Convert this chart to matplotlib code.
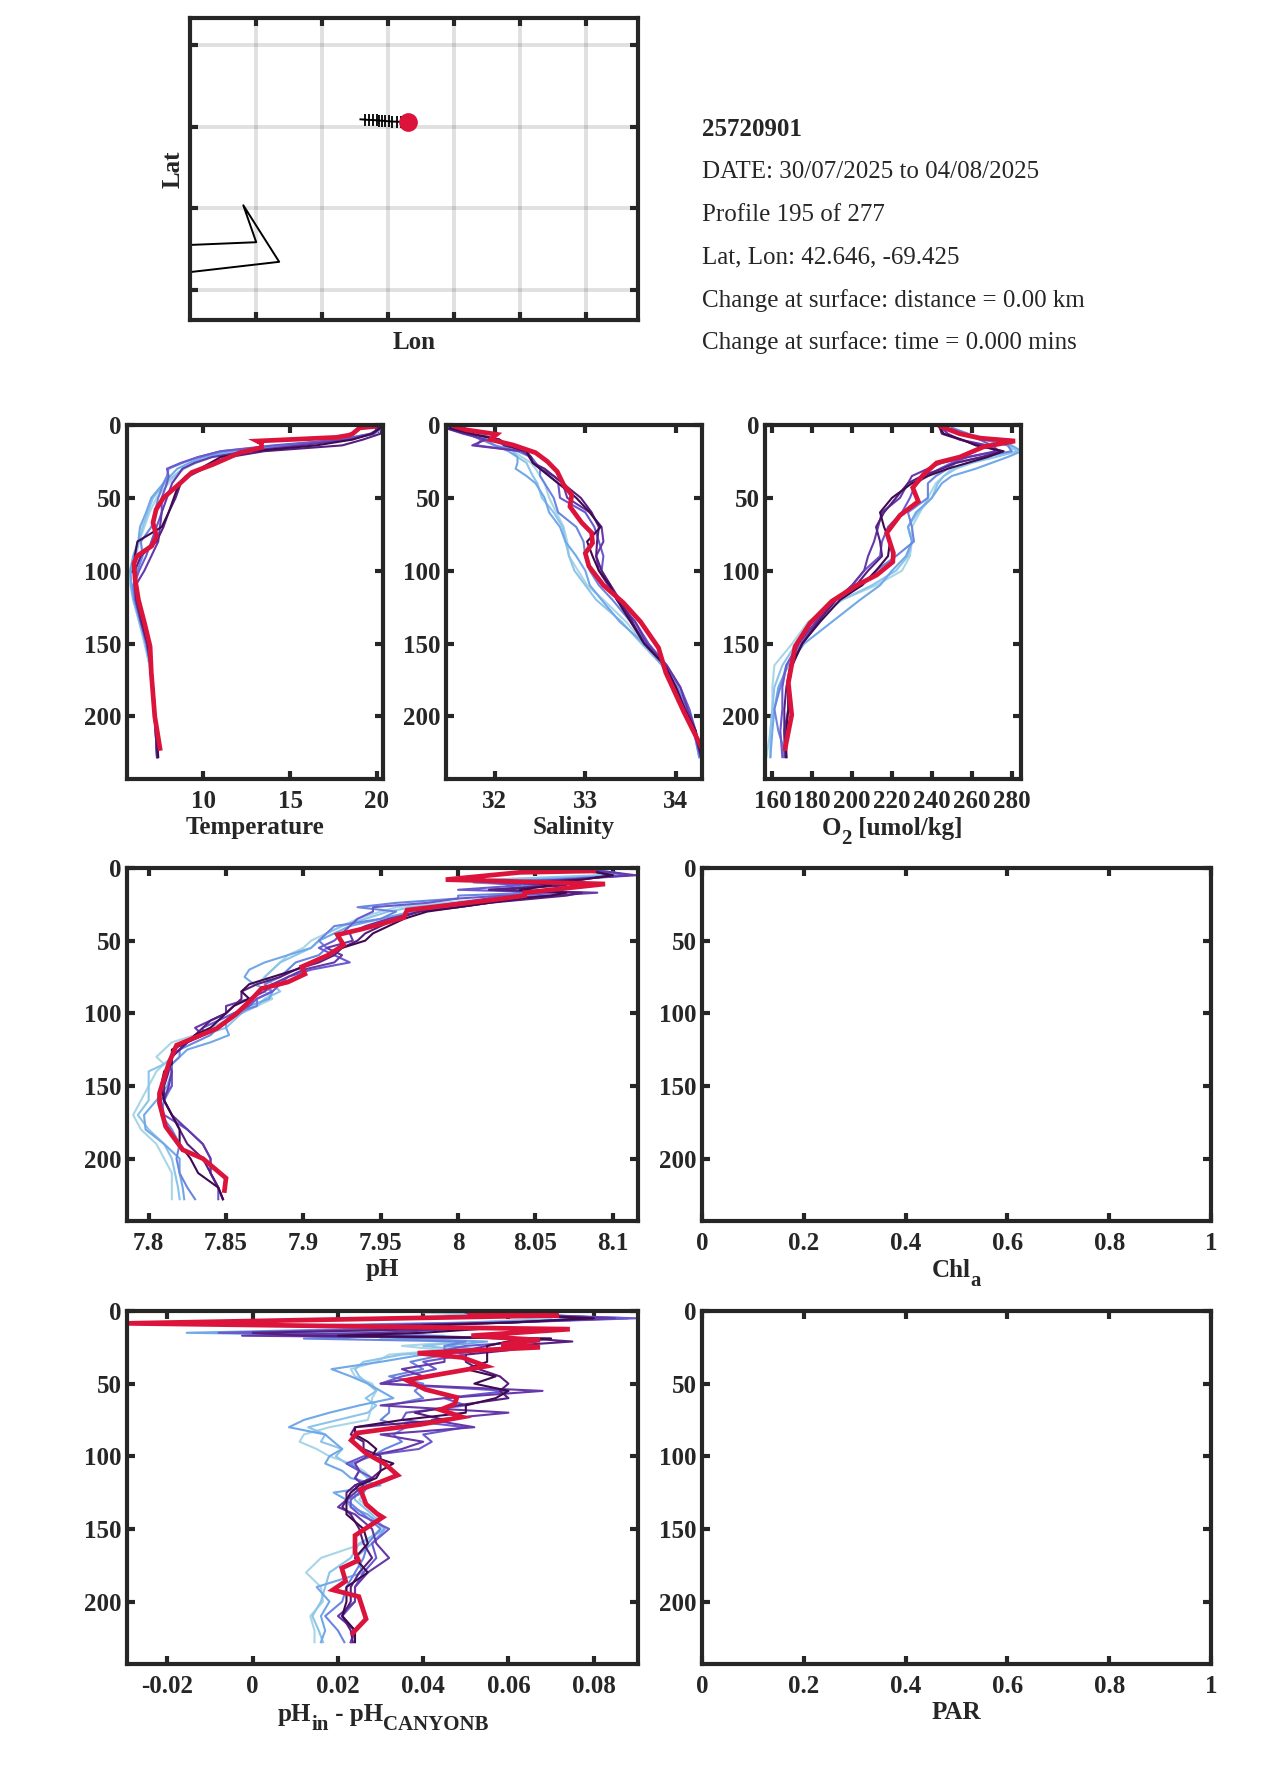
import matplotlib
matplotlib.use('Agg')
from matplotlib import pyplot as plt

plt.rcParams['font.family'] = ['Liberation Serif', 'DejaVu Serif']
plt.rcParams['font.weight'] = 'bold'
plt.rcParams['text.color'] = '#262626'

W, H = 1275, 1771
DARK = '#262626'
RED = '#dc143c'
COLORS = ['#a9d6e6', '#8cc4ea', '#70a8e8', '#6a86e0', '#6a5acd', '#6638aa', '#561f80', '#3f0a50']

# map
lon_ticks = [-70.0, -69.75, -69.5, -69.25, -69.0, -68.75]
lat_ticks = [42.133, 42.383, 42.633, 42.883]
track_lon = [-69.605, -69.588, -69.573, -69.559, -69.544, -69.534, -69.525, -69.513, -69.497, -69.484, -69.468, -69.453, -69.425]
track_lat = [42.655, 42.654, 42.653, 42.653, 42.652, 42.651, 42.651, 42.650, 42.649, 42.648, 42.648, 42.647, 42.646]
coast_lon = [-70.3, -70.0, -70.049, -69.913, -70.3]
coast_lat = [42.269, 42.279, 42.392, 42.219, 42.183]

info_lines = ['DATE: 30/07/2025 to 04/08/2025', 'Profile 195 of 277', 'Lat, Lon: 42.646, -69.425',
              'Change at surface: distance = 0.00 km', 'Change at surface: time = 0.000 mins']

# depth levels of the older profiles
z = [2, 6, 10, 14, 18, 22, 26, 30, 35, 40, 50, 60, 70, 80, 90, 100, 110, 120, 135, 150, 165, 180, 195, 210, 228]
zf = [1, 3, 5, 8, 10, 12, 15, 17, 19, 21, 24, 27, 30, 35, 40, 45, 50, 55, 60, 65, 70, 75, 80, 85, 90, 95, 100, 105,
      110, 115, 120, 125, 130, 135, 140, 150, 160, 170, 180, 190, 200, 210, 220, 228]

temp_old = [
    [20.2, 19.8, 18.5, 15.5, 12.5, 10.5, 9.6, 8.9, 8.4, 8.0, 7.3, 6.9, 6.6, 6.3, 6.0, 5.75, 5.85, 6.0, 6.3, 6.6, 6.9, 7.05, 7.15, 7.25, 7.35],
    [20.3, 19.9, 18.2, 15.0, 12.0, 10.3, 9.4, 8.8, 8.3, 7.8, 7.1, 6.8, 6.5, 6.3, 6.1, 5.8, 5.8, 5.95, 6.3, 6.65, 6.9, 7.05, 7.15, 7.25, 7.32],
    [20.3, 19.7, 17.8, 14.6, 11.5, 10.0, 9.2, 8.5, 8.1, 7.7, 7.0, 6.7, 6.35, 6.25, 5.95, 5.8, 5.85, 6.0, 6.35, 6.7, 6.95, 7.05, 7.15, 7.25, 7.33],
    [20.3, 19.8, 18.2, 14.5, 11.0, 9.7, 8.8, 8.0, 7.9, 7.7, 7.4, 7.2, 7.0, 6.4, 6.5, 6.2, 5.95, 6.05, 6.4, 6.7, 6.95, 7.05, 7.15, 7.25, 7.33],
    [20.2, 19.6, 18.0, 14.0, 11.0, 9.7, 8.7, 7.9, 8.0, 7.9, 7.6, 7.6, 7.3, 7.0, 6.7, 6.3, 6.0, 6.1, 6.4, 6.75, 6.95, 7.05, 7.15, 7.25, 7.33],
    [20.2, 19.8, 18.4, 15.5, 12.5, 10.5, 9.5, 8.8, 8.5, 8.2, 7.9, 7.6, 7.5, 7.4, 7.0, 6.6, 6.1, 6.1, 6.4, 6.75, 6.95, 7.05, 7.15, 7.25, 7.33],
    [20.3, 20.2, 19.2, 18.0, 13.5, 11.5, 10.5, 10.0, 9.2, 8.7, 8.4, 8.0, 7.7, 7.3, 6.4, 6.05, 6.05, 6.15, 6.45, 6.8, 7.0, 7.1, 7.2, 7.25, 7.35],
    [20.2, 19.7, 18.6, 16.5, 12.8, 11.0, 10.4, 9.8, 9.0, 8.6, 8.3, 8.0, 7.6, 6.2, 6.05, 6.05, 6.1, 6.2, 6.5, 6.8, 7.0, 7.1, 7.2, 7.3, 7.4],
]
temp_z = [1, 2, 6, 7, 8.5, 11, 12.5, 15.5, 19, 27, 32.6, 39, 50, 58, 62, 67, 76.5, 83, 90, 95, 106, 120, 138, 152, 170, 200, 222]
temp_now = [19.87, 19.0, 18.6, 18.4, 17.66, 13.1, 13.35, 13.35, 12.1, 10.57, 9.33, 8.75, 7.7, 7.28, 7.2, 7.1, 7.3, 7.03, 6.17, 6.0, 6.07, 6.26, 6.65, 6.93, 7.0, 7.2, 7.5]

sal_old = [
    [31.5, 31.8, 32.0, 32.1, 32.2, 32.3, 32.4, 32.45, 32.5, 32.55, 32.6, 32.68, 32.76, 32.8, 32.82, 32.92, 33.02, 33.2, 33.45, 33.65, 33.85, 33.97, 34.1, 34.2, 34.26],
    [31.55, 31.85, 32.0, 32.1, 32.2, 32.25, 32.35, 32.38, 32.42, 32.47, 32.52, 32.65, 32.75, 32.78, 32.82, 32.88, 33.0, 33.12, 33.4, 33.62, 33.85, 33.97, 34.1, 34.2, 34.26],
    [31.6, 31.9, 31.9, 32.0, 32.15, 32.25, 32.25, 32.23, 32.35, 32.45, 32.55, 32.6, 32.72, 32.78, 32.9, 33.0, 33.05, 33.18, 33.38, 33.65, 33.85, 33.97, 34.1, 34.2, 34.27],
    [31.5, 31.7, 31.85, 32.0, 32.25, 32.4, 32.45, 32.5, 32.5, 32.55, 32.65, 32.7, 32.9, 32.98, 33.0, 33.05, 33.15, 33.3, 33.5, 33.68, 33.88, 34.02, 34.12, 34.2, 34.26],
    [31.5, 31.7, 31.85, 31.8, 32.3, 32.4, 32.45, 32.5, 32.6, 32.7, 32.72, 33.0, 33.1, 33.15, 33.2, 33.18, 33.27, 33.35, 33.55, 33.7, 33.9, 34.05, 34.15, 34.22, 34.28],
    [31.45, 31.65, 31.9, 31.75, 32.3, 32.4, 32.42, 32.5, 32.65, 32.75, 32.8, 33.05, 33.18, 33.2, 33.12, 33.15, 33.25, 33.35, 33.55, 33.68, 33.9, 34.05, 34.13, 34.22, 34.28],
    [31.45, 31.7, 32.05, 32.1, 32.35, 32.4, 32.42, 32.55, 32.65, 32.75, 32.95, 33.07, 33.15, 33.13, 33.12, 33.18, 33.28, 33.38, 33.52, 33.65, 33.88, 34.0, 34.1, 34.2, 34.28],
    [31.5, 31.75, 32.05, 32.15, 32.35, 32.38, 32.42, 32.5, 32.6, 32.7, 32.9, 33.05, 33.17, 33.02, 33.08, 33.15, 33.27, 33.35, 33.5, 33.65, 33.88, 34.0, 34.1, 34.22, 34.29],
]
sal_z = [1, 3.4, 6.4, 10, 13.7, 19, 25, 32, 41, 48, 56, 67, 74, 81, 88, 97, 110, 122, 135, 153, 170, 197, 222]
sal_now = [31.56, 31.69, 32.02, 31.95, 32.2, 32.45, 32.58, 32.69, 32.76, 32.85, 32.83, 32.96, 33.07, 33.08, 33.0, 33.04, 33.2, 33.42, 33.61, 33.81, 33.89, 34.09, 34.29]

oxy_old = [
    [250, 258, 270, 280, 280, 268, 258, 250, 246, 242, 238, 234, 230, 230, 229, 225, 212, 195, 178, 170, 161, 160, 160, 159, 157],
    [248, 255, 268, 278, 283, 272, 260, 252, 246, 243, 240, 233, 228, 230, 228, 222, 210, 195, 180, 172, 165, 161, 160, 159, 159],
    [250, 258, 266, 280, 285, 278, 270, 262, 250, 245, 240, 232, 228, 230, 227, 220, 214, 204, 190, 176, 168, 163, 161, 160, 159],
    [250, 258, 266, 278, 280, 265, 252, 248, 242, 238, 238, 228, 230, 231, 222, 212, 205, 190, 182, 174, 167, 164, 161, 163, 167],
    [247, 255, 264, 270, 274, 258, 250, 244, 238, 232, 229, 225, 218, 215, 214, 206, 200, 192, 182, 173, 167, 165, 165, 164, 165],
    [245, 248, 254, 268, 272, 258, 245, 238, 230, 228, 224, 215, 213, 211, 208, 206, 200, 192, 182, 173, 169, 168, 168, 166, 166],
    [244, 245, 254, 264, 275, 265, 252, 245, 235, 228, 222, 216, 212, 214, 215, 208, 202, 192, 183, 175, 169, 167, 166, 166, 167],
    [244, 246, 255, 262, 276, 268, 258, 248, 238, 230, 220, 214, 216, 219, 218, 212, 205, 194, 184, 175, 170, 168, 168, 167, 167],
]
oxy_z = [1, 6, 9, 11, 15, 22, 26, 34, 43, 52.5, 62, 74, 88, 94, 103, 110, 121, 136, 152, 177, 199, 222]
oxy_now = [244.4, 254, 264, 281.7, 265.9, 254, 242.4, 235.8, 230.4, 233.2, 224, 217.4, 220.7, 220.4, 212.3, 202.3, 189.8, 178.9, 171.4, 168, 169.7, 166.4]

ph_old = [
    [8.07, 8.09, 8.1, 8.04, 8.02, 8.05, 8.03, 8.05, 8.02, 8.02, 7.99, 7.96, 7.95, 7.935, 7.925, 7.915, 7.905, 7.9, 7.89, 7.885, 7.88, 7.875, 7.87, 7.875, 7.88, 7.87, 7.855, 7.85, 7.84, 7.83, 7.815, 7.81, 7.805, 7.81, 7.805, 7.8, 7.795, 7.79, 7.795, 7.805, 7.81, 7.815, 7.815, 7.815],
    [8.08, 8.1, 8.09, 8.02, 8.04, 8.06, 8.04, 8.06, 8.03, 8.03, 8.0, 7.97, 7.955, 7.94, 7.925, 7.915, 7.91, 7.905, 7.895, 7.885, 7.88, 7.875, 7.88, 7.885, 7.875, 7.87, 7.86, 7.855, 7.85, 7.835, 7.825, 7.82, 7.815, 7.81, 7.8, 7.8, 7.8, 7.793, 7.8, 7.81, 7.815, 7.817, 7.819, 7.82],
    [8.08, 8.09, 8.11, 8.05, 8.03, 8.06, 8.03, 8.04, 8.04, 8.03, 8.02, 8.0, 7.97, 7.95, 7.93, 7.92, 7.91, 7.905, 7.89, 7.875, 7.865, 7.862, 7.868, 7.88, 7.878, 7.865, 7.86, 7.85, 7.85, 7.852, 7.84, 7.825, 7.82, 7.815, 7.815, 7.812, 7.805, 7.797, 7.798, 7.81, 7.82, 7.82, 7.822, 7.823],
    [8.08, 8.1, 8.11, 8.06, 8.01, 8.05, 8.03, 8.05, 8.0, 8.0, 7.96, 7.935, 7.96, 7.95, 7.92, 7.915, 7.91, 7.915, 7.91, 7.895, 7.89, 7.885, 7.875, 7.88, 7.87, 7.87, 7.855, 7.85, 7.845, 7.84, 7.83, 7.82, 7.82, 7.815, 7.815, 7.815, 7.81, 7.808, 7.815, 7.82, 7.818, 7.82, 7.825, 7.83],
    [8.08, 8.1, 8.11, 8.07, 8.02, 8.04, 8.0, 8.07, 8.03, 8.0, 7.98, 7.945, 7.945, 7.935, 7.93, 7.925, 7.92, 7.91, 7.92, 7.93, 7.905, 7.89, 7.885, 7.88, 7.87, 7.865, 7.855, 7.845, 7.835, 7.835, 7.825, 7.82, 7.815, 7.813, 7.815, 7.815, 7.808, 7.81, 7.825, 7.835, 7.84, 7.84, 7.845, 7.845],
    [8.08, 8.1, 8.115, 8.07, 8.03, 8.06, 8.02, 8.09, 8.06, 8.02, 8.0, 7.98, 7.975, 7.955, 7.94, 7.93, 7.932, 7.915, 7.925, 7.92, 7.9, 7.89, 7.88, 7.875, 7.865, 7.85, 7.85, 7.84, 7.83, 7.835, 7.825, 7.82, 7.815, 7.813, 7.815, 7.813, 7.81, 7.815, 7.825, 7.835, 7.84, 7.84, 7.845, 7.848],
    [8.08, 8.09, 8.1, 8.08, 8.04, 8.07, 8.02, 8.08, 8.07, 8.05, 8.02, 8.0, 7.975, 7.96, 7.95, 7.94, 7.935, 7.925, 7.92, 7.91, 7.895, 7.885, 7.87, 7.86, 7.86, 7.855, 7.85, 7.84, 7.835, 7.83, 7.825, 7.82, 7.815, 7.813, 7.813, 7.81, 7.81, 7.815, 7.82, 7.825, 7.835, 7.84, 7.845, 7.848],
    [8.08, 8.09, 8.1, 8.08, 8.05, 8.06, 8.04, 8.07, 8.06, 8.04, 8.02, 8.0, 7.98, 7.965, 7.955, 7.945, 7.94, 7.925, 7.915, 7.905, 7.895, 7.88, 7.865, 7.86, 7.865, 7.855, 7.85, 7.845, 7.84, 7.83, 7.825, 7.815, 7.815, 7.815, 7.81, 7.808, 7.81, 7.815, 7.82, 7.82, 7.827, 7.832, 7.845, 7.848],
]
ph_z = [1, 2, 3, 8, 11, 17, 19, 22, 29, 34, 38, 42, 46, 53, 60, 68, 73, 78.5, 83, 91, 101, 110.5, 122, 134.5, 155, 162, 178, 194, 200, 213.5, 222]
ph_now = [8.073, 8.089, 8.04, 7.992, 8.095, 8.043, 8.043, 8.022, 7.967, 7.965, 7.952, 7.938, 7.922, 7.926, 7.916, 7.899, 7.901, 7.89, 7.873, 7.866, 7.856, 7.844, 7.818, 7.813, 7.807, 7.807, 7.811, 7.822, 7.835, 7.85, 7.849]

dph_old = [
    [.04, .052, .07, .05, .03, .06, .02, .045, .03, .05, .035, .045, .032, .029, .023, .024, .028, .029, .028, .028, .0275, .027, .018, .012, .011, .015, .018, .023, .026, .028, .027, .026, .025, .027, .029, .03, .026, .016, .0125, .016, .0165, .0135, .0145, .0145],
    [.045, .06, .08, .05, .02, .05, .01, .04, .03, .05, .04, .05, .035, .026, .024, .025, .027, .029, .0265, .029, .027, .02, .013, .017, .016, .021, .0195, .022, .025, .027, .026, .024, .024, .026, .028, .031, .025, .023, .018, .017, .016, .014, .0155, .0165],
    [.05, .07, .088, .05, .01, .03, -.0155, .03, .035, .055, .045, .055, .04, .03, .0185, .023, .027, .03, .033, .025, .018, .012, .0085, .017, .019, .021, .018, .017, .021, .023, .03, .019, .022, .023, .027, .031, .028, .024, .026, .015, .018, .016, .017, .016],
    [.05, .07, .088, .055, .02, .03, .005, .035, .012, .05, .045, .045, .045, .037, .04, .032, .04, .038, .04, .032, .032, .03, .036, .033, .035, .031, .028, .023, .025, .024, .027, .026, .022, .024, .026, .03, .027, .026, .024, .022, .021, .017, .02, .0215],
    [.05, .065, .09, .06, .02, .035, -.008, .04, .06, .065, .05, .045, .05, .04, .043, .035, .03, .06, .045, .05, .036, .035, .05, .04, .042, .039, .026, .022, .025, .028, .024, .025, .023, .023, .025, .032, .028, .029, .026, .024, .024, .021, .024, .023],
    [.05, .07, .085, .06, .03, .05, .03, -.0025, .07, .06, .055, .05, .045, .045, .035, .04, .03, .068, .045, .03, .06, .042, .052, .03, .04, .035, .027, .024, .025, .024, .026, .024, .022, .02, .024, .028, .029, .032, .027, .024, .024, .02, .024, .023],
    [.055, .06, .08, .06, .035, .05, .0, .012, .065, .075, .06, .06, .05, .05, .053, .058, .06, .058, .06, .048, .038, .045, .024, .023, .026, .026, .03, .03, .03, .028, .024, .022, .022, .021, .023, .025, .026, .028, .025, .023, .023, .021, .023, .0235],
    [.055, .065, .08, .06, .04, .055, .04, .02, .07, .06, .055, .055, .055, .055, .05, .057, .052, .06, .057, .05, .05, .035, .024, .024, .027, .029, .028, .033, .03, .029, .025, .023, .022, .022, .022, .026, .027, .024, .027, .022, .022, .021, .024, .024],
]
dph_z = [1, 3, 8.5, 12.5, 17, 20, 23, 25, 29, 32, 38, 43.5, 47.6, 54, 59.5, 64, 68, 73, 78, 84, 89, 98, 105, 113, 123, 133, 139.6, 142, 154.5, 166, 171.6, 177, 186, 192, 196.6, 212, 221.6]
dph_now = [.0509, .0718, -.0295, .0744, .0513, .0674, .0583, .0674, .0387, .0492, .0548, .044, .0361, .0405, .0479, .0474, .044, .0492, .0396, .0244, .0231, .0266, .0309, .034, .0253, .0266, .0292, .0305, .024, .024, .0248, .0209, .0218, .0188, .0249, .0266, .0235]

depth_ticks = [0, 50, 100, 150, 200]
ymax = 243
FS = 18


def px_axes(left, top, right, bottom):
    return fig.add_axes([left / W, 1 - bottom / H, (right - left) / W, (bottom - top) / H])


def style(ax):
    for s in ax.spines.values():
        s.set_linewidth(3)
        s.set_color(DARK)
    ax.tick_params(direction='in', top=True, right=True, length=6, width=3, color=DARK,
                   labelsize=FS, labelcolor=DARK)
    ax.tick_params(axis='x', pad=8)
    ax.tick_params(axis='y', pad=4)


def profile_axes(box, xlim, xticks, xlabels, label=None):
    ax = px_axes(*box)
    ax.set_xlim(*xlim)
    ax.set_ylim(ymax, 0)
    ax.set_xticks(xticks, xlabels)
    ax.set_yticks(depth_ticks)
    if label:
        ax.set_xlabel(label, fontsize=FS, fontweight='bold', color=DARK, labelpad=2)
    style(ax)
    return ax


def draw_profiles(ax, levels, old, z_now, now):
    for vals, col in zip(old, COLORS):
        ax.plot(vals, levels, c=col, lw=1.5)
    ax.plot(now, z_now, c=RED, lw=3.4, solid_joinstyle='miter')


def sub_label(xc, y, pieces):
    # label with big MATLAB style subscripts, pieces are (text, is_subscript)
    parts = []
    total = 0
    renderer = fig.canvas.get_renderer()
    for txt, is_sub in pieces:
        t = fig.text(0, 1 - (y + (9 if is_sub else 0)) / H, txt, fontsize=15 if is_sub else FS,
                     fontweight='bold', va='baseline', ha='left')
        w = t.get_window_extent(renderer).width
        parts.append((t, w))
        total += w
    x = xc - total / 2
    for t, w in parts:
        t.set_x(x / W)
        x += w


fig = plt.figure(figsize=(W / 100, H / 100), dpi=100)

# map panel
ax = px_axes(190, 18, 638, 320)
ax.set_xlim(-70.251, -68.553)
ax.set_ylim(42.041, 42.965)
ax.set_xticks(lon_ticks, [])
ax.set_yticks(lat_ticks, [])
ax.grid(True, color=DARK, alpha=0.14, lw=2.8)
ax.set_axisbelow(True)
style(ax)
ax.plot(coast_lon, coast_lat, c='k', lw=1.4)
ax.plot(track_lon, track_lat, c='k', lw=1.4)
ax.plot(track_lon[1:], track_lat[1:], c='k', ls='none', marker='|', ms=8, mew=1.3)
ax.plot(track_lon[-1], track_lat[-1], 'o', c=RED, ms=13.5, mew=0)
ax.set_xlabel('Lon', fontsize=FS, fontweight='bold', color=DARK, labelpad=0)
ax.set_ylabel('Lat', fontsize=FS, fontweight='bold', color=DARK, labelpad=0)

fig.text(702 / W, 1 - 129.5 / H, '25720901', fontsize=FS, fontweight='bold', va='center')
for i, line in enumerate(info_lines):
    fig.text(702 / W, 1 - (172.5 + 42.6 * i) / H, line, fontsize=FS, fontweight='normal', va='center')

ax = profile_axes((127, 425, 383, 779), (5.6, 20.35), [10, 15, 20], ['10', '15', '20'], 'Temperature')
draw_profiles(ax, z, temp_old, temp_z, temp_now)

ax = profile_axes((446, 425, 702, 779), (31.46, 34.29), [32, 33, 34], ['32', '33', '34'], 'Salinity')
draw_profiles(ax, z, sal_old, sal_z, sal_now)

ax = profile_axes((765, 425, 1021, 779), (156.3, 284.7), [160, 180, 200, 220, 240, 260, 280],
                  ['160', '180', '200', '220', '240', '260', '280'])
draw_profiles(ax, z, oxy_old, oxy_z, oxy_now)
sub_label(892, 835, [('O', False), ('2', True), (' [umol/kg]', False)])

ax = profile_axes((127, 868, 638, 1221), (7.786, 8.1163), [7.8, 7.85, 7.9, 7.95, 8, 8.05, 8.1],
                  ['7.8', '7.85', '7.9', '7.95', '8', '8.05', '8.1'], 'pH')
draw_profiles(ax, zf, ph_old, ph_z, ph_now)

unit_ticks = [0, 0.2, 0.4, 0.6, 0.8, 1]
unit_labels = ['0', '0.2', '0.4', '0.6', '0.8', '1']
profile_axes((702, 868, 1211, 1221), (0, 1), unit_ticks, unit_labels)
sub_label(956, 1277, [('Chl', False), ('a', True)])

ax = profile_axes((127, 1311, 638, 1664), (-0.0295, 0.0904), [-0.02, 0, 0.02, 0.04, 0.06, 0.08],
                  ['-0.02', '0', '0.02', '0.04', '0.06', '0.08'])
draw_profiles(ax, zf, dph_old, dph_z, dph_now)
sub_label(383, 1721, [('pH', False), ('in', True), (' - pH', False), ('CANYONB', True)])

profile_axes((702, 1311, 1211, 1664), (0, 1), unit_ticks, unit_labels, 'PAR')

fig.savefig('out.png', dpi=100)
